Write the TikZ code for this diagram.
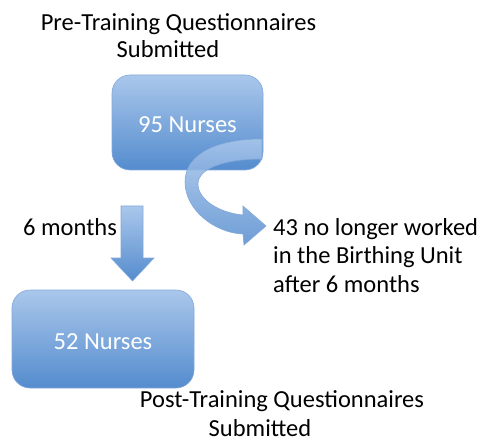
\documentclass[tikz,border=0pt]{standalone}
\usepackage{fontspec}
\setmainfont{Carlito}
\definecolor{boxtop}{RGB}{170,199,235}
\definecolor{boxbot}{RGB}{84,140,206}
\definecolor{boxedge}{RGB}{130,168,218}
\begin{document}
\begin{tikzpicture}[x=1pt,y=-1pt,
  every node/.style={font=\fontsize{24.5}{28.5}\selectfont, inner sep=0pt},
  nbox/.style={rounded corners=18pt, draw=boxedge, line width=0.6pt,
    top color=boxtop, bottom color=boxbot, text=white, text height=21pt, text depth=0pt},
  label/.style={text=black},
  blockarrow/.style={draw=boxedge, line width=0.6pt, top color=boxtop, bottom color=boxbot}]
\useasboundingbox (0,0) rectangle (489,438);
\node[label, align=center, anchor=base, font=\fontsize{24.5}{27}\selectfont] (pretitle) at (178.5,58) {Pre-Training Questionnaires\\Submitted\hspace*{21pt}};
\node[nbox, minimum width=151pt, minimum height=95pt] (pre) at (187.5,122.5) {95 Nurses};
\node[nbox, minimum width=182pt, minimum height=98pt] (post) at (103,339) {52 Nurses};
\node[label, anchor=base west] (six) at (23,235) {6 months};
\node[label, align=left, anchor=base west] (left) at (273,292) {43 no longer worked\\in the Birthing Unit\\after 6 months};
\node[label, align=center, anchor=base, font=\fontsize{24.5}{28.5}\selectfont] (posttitle) at (282,436) {Post-Training Questionnaires\\Submitted\hspace*{44pt}};
% straight block arrow
\path[blockarrow] (121,206) -- (143,206) -- (143,258) -- (154,258) -- (132.5,281) -- (111,258) -- (121,258) -- cycle;
% curved block arrow
\path[blockarrow, fill opacity=0.85]
  (262,139) .. controls (215,139) and (185,155) .. (185,182)
  .. controls (185,210) and (215,233) .. (243,234)
  -- (244,245) -- (266,226) -- (243,206) -- (243,215)
  .. controls (220,213) and (198,200) .. (198,184)
  .. controls (198,168) and (225,159) .. (262,159) -- cycle;
\end{tikzpicture}
\end{document}
